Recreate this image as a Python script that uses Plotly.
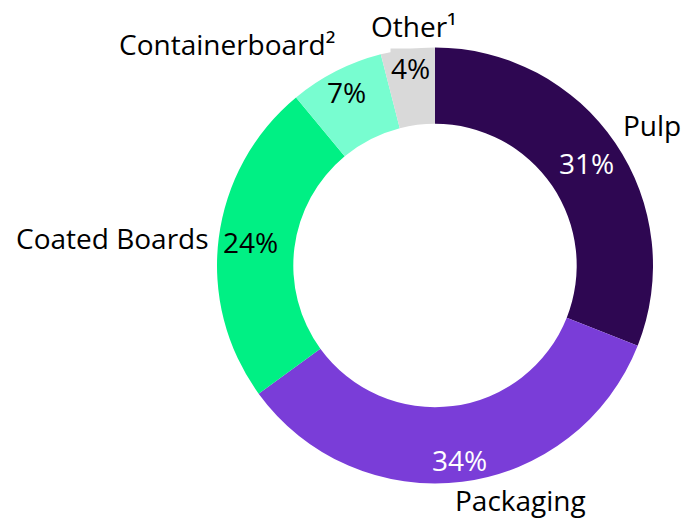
import math
import plotly.graph_objects as go

# Revenue share by business segment
segments = ["Pulp", "Packaging", "Coated Boards", "Containerboard²", "Other¹"]
shares = [31, 34, 24, 7, 4]
colors = ["#2e0752", "#7a3dd8", "#00f084", "#78fdd0", "#d9d9d9"]
pct_text_colors = ["#ffffff", "#ffffff", "#000000", "#000000", "#000000"]
# Backing box behind a percentage that is wider than its slice
pct_bg = ["rgba(0,0,0,0)", "rgba(0,0,0,0)", "rgba(0,0,0,0)", "rgba(0,0,0,0)", "#d9d9d9"]

# Radial position of each percentage, as a fraction of the outer radius
pct_radius = [0.84, 0.90, 0.853, 0.895, 0.912]

# Placement of each segment name relative to its slice
name_xanchor = ["left", "left", "right", "right", "center"]
name_yanchor = ["bottom", "top", "middle", "bottom", "bottom"]
name_xshift = [4, -10, -6, 2, 7]
name_yshift = [-4, 5, 0, 4, 0]

FONT = "Open Sans"
FONT_SIZE = 28
W, H = 688, 518
dom_x = [217 / W, 653 / W]
dom_y = [1 - 484 / H, 1 - 47 / H]
HOLE = 0.65

fig = go.Figure()

# Coloured ring
fig.add_trace(go.Pie(
    labels=segments,
    values=shares,
    sort=False,
    direction="clockwise",
    rotation=0,
    hole=HOLE,
    marker=dict(colors=colors, line=dict(width=0)),
    textinfo="none",
    domain=dict(x=dom_x, y=dom_y),
    showlegend=False,
    hoverinfo="label+percent",
))

# Ring geometry in pixels, used to place the labels at each slice's mid angle
cx_px = (dom_x[0] + dom_x[1]) / 2 * W
cy_px = (1 - (dom_y[0] + dom_y[1]) / 2) * H
radius_px = min((dom_x[1] - dom_x[0]) * W, (dom_y[1] - dom_y[0]) * H) / 2
label_r = radius_px + 2

total = sum(shares)
cum = 0
for i, (name, val) in enumerate(zip(segments, shares)):
    mid = (cum + val / 2) / total * 2 * math.pi
    cum += val
    sx, cy = math.sin(mid), math.cos(mid)

    # Percentage inside the slice
    r = pct_radius[i] * radius_px
    fig.add_annotation(
        x=(cx_px + r * sx) / W, y=1 - (cy_px - r * cy) / H,
        xref="paper", yref="paper",
        text=f"{val}%", showarrow=False,
        xanchor="center", yanchor="middle",
        bgcolor=pct_bg[i], borderpad=0,
        font=dict(family=FONT, size=FONT_SIZE, color=pct_text_colors[i]),
    )

    # Segment name outside the ring
    fig.add_annotation(
        x=(cx_px + label_r * sx) / W, y=1 - (cy_px - label_r * cy) / H,
        xref="paper", yref="paper",
        text=name, showarrow=False,
        xanchor=name_xanchor[i], yanchor=name_yanchor[i],
        xshift=name_xshift[i], yshift=name_yshift[i],
        font=dict(family=FONT, size=FONT_SIZE, color="#000000"),
    )

fig.update_layout(
    width=W,
    height=H,
    margin=dict(l=0, r=0, t=0, b=0),
    paper_bgcolor="white",
    plot_bgcolor="white",
    font=dict(family=FONT),
)

fig.write_html("out.html")
